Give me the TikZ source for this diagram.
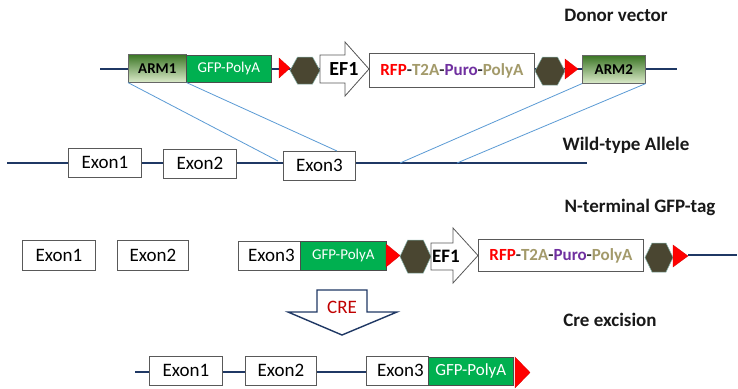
\documentclass[tikz,border=0pt]{standalone}
\usepackage{fontspec}
\setmainfont{Carlito}
\definecolor{dna}{HTML}{1F3864}
\definecolor{cross}{HTML}{5B9BD5}
\definecolor{gfpg}{HTML}{00B050}
\definecolor{hexc}{HTML}{4A4631}
\definecolor{armdark}{HTML}{3A7524}
\definecolor{armlight}{HTML}{DCEBCB}
\definecolor{tanc}{HTML}{A39A6A}
\definecolor{puro}{HTML}{7030A0}
\definecolor{crered}{HTML}{C00000}
\tikzset{
  dnaline/.style={draw=dna, line width=2.6pt},
  crossline/.style={draw=cross, line width=0.8pt},
  exonbox/.style={draw=black!65, fill=white, line width=0.7pt, anchor=north west, inner sep=0, font=\fontsize{19}{19}\selectfont},
  gfpbox/.style={draw=black!70, fill=gfpg, text=white, anchor=north west, inner sep=0, line width=0.6pt},
  armbox/.style={draw=black!60, top color=armdark, bottom color=armlight, anchor=north west, inner sep=0, line width=0.6pt, font=\bfseries\fontsize{15}{15}\selectfont},
  rfpbox/.style={draw=black!65, fill=white, line width=0.8pt, anchor=north west, inner sep=0, font=\bfseries\fontsize{17}{17}\selectfont},
  hexshape/.style={fill=hexc, draw=hexc!70!cyan!60!white, line width=0.5pt},
  loxp/.style={fill=red, draw=red!85!black, line width=0.3pt},
  promo/.style={fill=white, draw=black!65, line width=0.8pt},
  promotext/.style={font=\bfseries\fontsize{20}{20}\selectfont},
  title/.style={font=\bfseries\fontsize{19}{19}\selectfont, text=black!90},
  crearrow/.style={fill=white, draw=dna, line width=1.4pt, line join=miter},
}
% hexagon: x1 x2 ytop ybottom
\newcommand{\hexag}[4]{\path[hexshape] (#1,{(#3+#4)/2}) -- ({#1+(#2-#1)/4},#3) -- ({#2-(#2-#1)/4},#3) -- (#2,{(#3+#4)/2}) -- ({#2-(#2-#1)/4},#4) -- ({#1+(#2-#1)/4},#4) -- cycle;}
% loxP triangle: x1 x2 ytop ybottom
\newcommand{\loxtri}[4]{\path[loxp] (#1,#3) -- (#2,{(#3+#4)/2}) -- (#1,#4) -- cycle;}
% promoter arrow: x1 xh x2 bodytop bodybottom headtop headbottom
\newcommand{\promarrow}[7]{\path[promo] (#1,#4) -- (#2,#4) -- (#2,#6) -- (#3,{(#6+#7)/2}) -- (#2,#7) -- (#2,#5) -- (#1,#5) -- cycle;}
\newcommand{\rfptext}{\textcolor{red}{RFP}\textcolor{black!80}{-}\textcolor{tanc}{T2A}\textcolor{black!80}{-}\textcolor{puro}{Puro}\textcolor{black!80}{-}\textcolor{tanc}{PolyA}}
\begin{document}
\begin{tikzpicture}[x=1pt, y=-1pt]
\useasboundingbox (0,0) rectangle (738,388);
\fill[white] (0,0) rectangle (738,388);

% ---------- titles ----------
\node[title] (t1) at (616,15) {Donor vector};
\node[title] (t2) at (626,145) {Wild-type Allele};
\node[title] (t3) at (640,207) {N-terminal GFP-tag};
\node[title] (t4) at (610,320) {Cre excision};

% ---------- row 1: donor vector ----------
\coordinate (d1s) at (100,69);
\coordinate (d1e) at (677,69);
\draw[dnaline] (d1s) -- (d1e);
\node[armbox, minimum width=58pt, minimum height=28pt] (arm1) at (128,54) {ARM1};
\node[gfpbox, minimum width=85pt, minimum height=27pt, font=\fontsize{15}{15}\selectfont] (gfp1) at (186,55) {GFP-PolyA};
\loxtri{279}{290}{58}{78}
\hexag{290}{320}{57}{84}
\promarrow{320}{345}{369}{55}{83}{42}{96}
\node[promotext] (ef1a) at (344,69) {EF1};
\node[rfpbox, minimum width=165pt, minimum height=34pt] (rfp1) at (369,53) {\rfptext};
\hexag{535}{565}{57}{85}
\loxtri{565}{578}{59}{79}
\node[armbox, minimum width=63pt, minimum height=28pt] (arm2) at (582,55) {ARM2};

% ---------- row 2: wild-type allele ----------
\coordinate (w2s) at (7,163);
\coordinate (w2e) at (587,163);
\draw[dnaline] (w2s) -- (w2e);
\node[exonbox, minimum width=73pt, minimum height=29pt] (wex1) at (68,148) {Exon1};
\node[exonbox, minimum width=73pt, minimum height=29pt] (wex2) at (163,149) {Exon2};
\node[exonbox, minimum width=72pt, minimum height=29pt] (wex3) at (283,151) {Exon3};

% crossover lines
\coordinate (c1) at (278,161);
\coordinate (c2) at (337,151);
\coordinate (c3) at (400,163);
\coordinate (c4) at (457,163);
\draw[crossline] (arm1.south west) -- (c1);
\draw[crossline] (arm1.south east) -- (c2);
\draw[crossline] (arm2.south west) -- (c3);
\draw[crossline] (arm2.south east) -- (c4);

% ---------- row 3: N-terminal GFP-tag ----------
\coordinate (n3s) at (688,255);
\coordinate (n3e) at (737,255);
\draw[dnaline] (n3s) -- (n3e);
\node[exonbox, minimum width=73pt, minimum height=30pt] (nex1) at (22,240) {Exon1};
\node[exonbox, minimum width=71pt, minimum height=30pt] (nex2) at (117,240) {Exon2};
\node[exonbox, minimum width=62pt, minimum height=29pt] (nex3) at (238,241) {\hspace*{4pt}Exon3};
\node[gfpbox, minimum width=86pt, minimum height=29pt, font=\fontsize{15}{15}\selectfont] (gfp3) at (300,241) {GFP-PolyA};
\loxtri{386}{400}{244}{267}
\hexag{400}{431}{240}{273}
\promarrow{431}{453}{478}{243}{270}{228}{283}
\node[promotext, font=\bfseries\fontsize{19}{19}\selectfont] (ef1b) at (446,256) {EF1};
\node[rfpbox, minimum width=165pt, minimum height=32pt] (rfp3) at (478,239) {\rfptext};
\hexag{645}{673}{243}{272}
\loxtri{673}{688}{245}{267}

% ---------- CRE arrow ----------
\path[crearrow] (317,290) -- (367,290) -- (367,312) -- (397,312) -- (342,335) -- (288,312) -- (317,312) -- cycle;
\node[text=crered, font=\fontsize{19}{19}\selectfont] (cre) at (342,307) {CRE};

% ---------- row 4: after Cre excision ----------
\coordinate (e4s) at (135,372);
\coordinate (e4e) at (513,372);
\draw[dnaline] (e4s) -- (e4e);
\node[exonbox, minimum width=73pt, minimum height=29pt] (eex1) at (149,356) {Exon1};
\node[exonbox, minimum width=71pt, minimum height=29pt] (eex2) at (245,356) {Exon2};
\node[exonbox, minimum width=62pt, minimum height=29pt] (eex3) at (366,356) {\hspace*{6pt}Exon3};
\node[gfpbox, minimum width=85pt, minimum height=28pt, font=\fontsize{17}{17}\selectfont] (gfp4) at (428,357) {GFP-PolyA};
\loxtri{515}{530}{357}{388}
\end{tikzpicture}
\end{document}
